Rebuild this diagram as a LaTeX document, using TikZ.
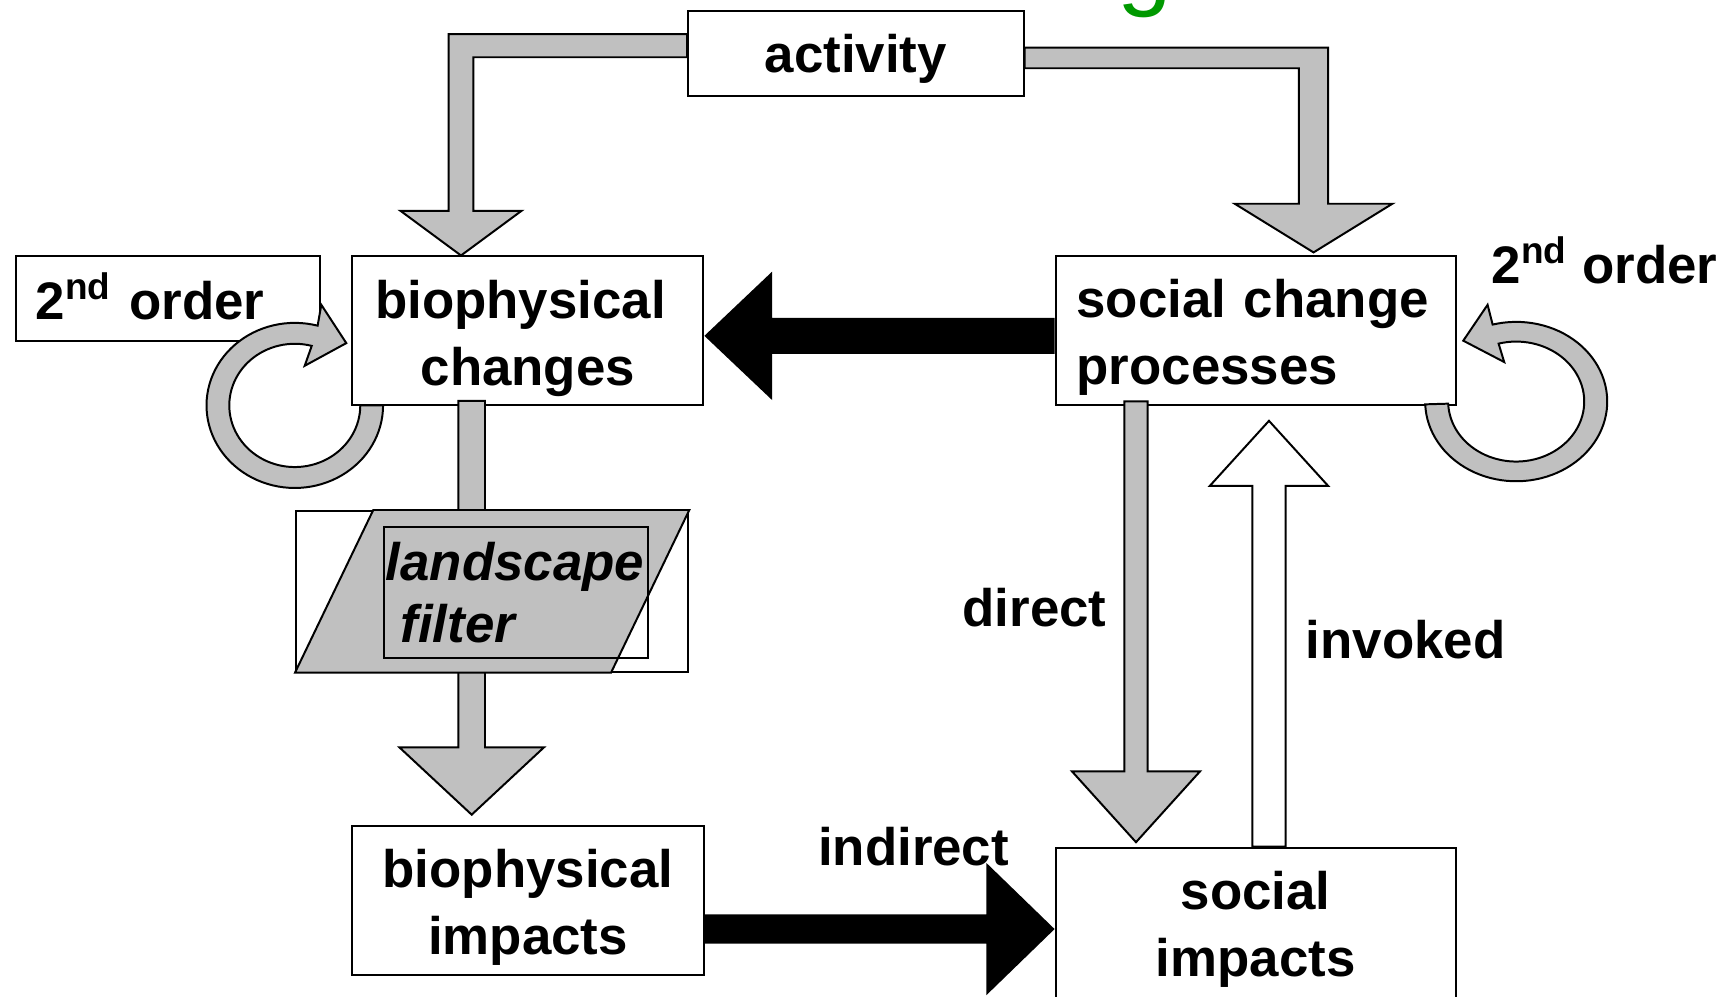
\documentclass[tikz,border=0pt]{standalone}
\usepackage{fontspec}
\setmainfont{Liberation Sans}
\usetikzlibrary{calc}
\definecolor{arrowgray}{RGB}{192,192,192}
\definecolor{titlegreen}{RGB}{0,153,0}
\begin{document}
\begin{tikzpicture}[x=0.5pt,y=-0.5pt,
  box/.style={draw=black, line width=0.9pt, fill=white, rectangle, inner sep=0pt,
              font=\fontsize{24}{30.5}\selectfont\bfseries},
  lbl/.style={font=\fontsize{24}{30.5}\selectfont\bfseries, inner sep=0pt},
  garrow/.style={draw=black, line width=0.9pt, fill=arrowgray, line join=miter},
  warrow/.style={draw=black, line width=0.9pt, fill=white, line join=miter},
  barrow/.style={fill=black},
]
\useasboundingbox (0,0) rectangle (1568,905);
\begin{scope}
\clip (0,0) rectangle (1568,905);

% cut-off title letter
\node[anchor=base west, inner sep=0pt, text=titlegreen,
      font=\fontsize{44.5}{50}\selectfont] (ttl) at (1015,-2) {g};

% boxes
\node[box, minimum width=152.5pt, minimum height=38.5pt, text height=22.5pt, text depth=5pt]
  (act) at (777.5,48.5) {activity};
\node[box, minimum width=159.5pt, minimum height=67.5pt, align=center,
      text height=54.5pt, text depth=5pt] (bc) at (479.5,300.5)
  {biophysical\hspace*{0.278em}\\changes};
\node[box, minimum width=182pt, minimum height=67.5pt, text width=163pt, inner xsep=9.5pt,
      align=left, text height=17.5pt, text depth=29.5pt] (sc) at (1141,300.5)
  {social change\\processes};
\node[box, minimum width=138pt, minimum height=38.75pt, text width=120pt, inner xsep=9pt,
      align=left, text height=19pt, text depth=0pt] (ord1) at (152.6,271) {2\textsuperscript{nd} order};
\node[box, minimum width=159.75pt, minimum height=68pt, align=center,
      text height=54.5pt, text depth=5pt] (bi) at (479.7,818)
  {biophysical\\impacts};
\node[box, minimum width=181.75pt, minimum height=70pt, align=center,
      text height=52.5pt, text depth=5pt] (si) at (1140.7,840)
  {social\\impacts};

% biophysical changes -> biophysical impacts (behind the filter)
\coordinate (t7) at ($(bi.north)+(-51.2,-9)$);
\draw[garrow] ($(t7 |- bc.south)+(-12.1,-4.8)$) -- ($(t7)+(-12.1,-61.2)$) -- ($(t7)+(-65.7,-61.2)$)
  -- (t7) -- ($(t7)+(65.7,-61.2)$) -- ($(t7)+(12.1,-61.2)$) -- ($(t7 |- bc.south)+(12.1,-4.8)$) -- cycle;

% landscape filter
\node[draw, line width=0.9pt, fill=white, minimum width=178.2pt, minimum height=73pt, inner sep=0pt]
  (flt) at (447.1,537.2) {};
\draw[line width=0.9pt, fill=arrowgray] ($(flt.north west)+(71.1,0)$) -- (flt.north east)
  -- ($(flt.south east)+(-71.1,0)$) -- (flt.south west) -- cycle;
\node[draw, line width=0.9pt, minimum width=119.8pt, minimum height=59.25pt, text width=118pt,
      inner xsep=0.9pt, inner ysep=0pt, align=left,
      font=\fontsize{24}{28}\selectfont\bfseries\itshape] (ftxt) at (468.6,538.25)
  {landscape\\\hspace*{0.278em}filter};

% activity -> biophysical changes
\coordinate (t1) at ($(bc.north)+(-60.7,0)$);
\draw[garrow] ($(act.west)+(0,-17.5)$) -| ($(t1)+(-11.2,-40.6)$) -- ($(t1)+(-55,-40.6)$) -- (t1)
  -- ($(t1)+(55,-40.6)$) -- ($(t1)+(11.2,-40.6)$) |- ($(act.west)+(0,3.5)$) -- cycle;

% activity -> social change processes
\coordinate (t2) at ($(sc.north)+(52.3,-2.8)$);
\draw[garrow] ($(act.east)+(0,-5.2)$) -| ($(t2)+(13.25,-44.2)$) -- ($(t2)+(71.6,-44.2)$) -- (t2)
  -- ($(t2)+(-71.6,-44.2)$) -- ($(t2)+(-13.25,-44.2)$) |- ($(act.east)+(0,13.5)$) -- cycle;

% social change processes -> biophysical changes
\coordinate (t3) at ($(bc.east)+(0,4.6)$);
\fill[barrow] (t3) -- ($(t3)+(61.5,-58.3)$) -- ($(t3)+(61.5,-16.35)$) -- ($(sc.west |- t3)+(0,-16.35)$)
  -- ($(sc.west |- t3)+(0,16.35)$) -- ($(t3)+(61.5,16.35)$) -- ($(t3)+(61.5,58.3)$) -- cycle;

% biophysical impacts -> social impacts (indirect)
\coordinate (t4) at ($(si.west |- bi.east)+(0,26)$);
\fill[barrow] (t4) -- ($(t4)+(-61.9,-60)$) -- ($(t4)+(-61.9,-13.3)$) -- ($(bi.east |- t4)+(0,-13.3)$)
  -- ($(bi.east |- t4)+(0,13.3)$) -- ($(t4)+(-61.9,13.3)$) -- ($(t4)+(-61.9,60)$) -- cycle;

% social change processes -> social impacts (direct)
\coordinate (t5) at ($(si.north)+(-108.7,-4)$);
\draw[garrow] ($(t5 |- sc.south)+(-10.6,-4.2)$) -- ($(t5)+(-10.6,-64.4)$) -- ($(t5)+(-58.2,-64.4)$)
  -- (t5) -- ($(t5)+(58.2,-64.4)$) -- ($(t5)+(10.6,-64.4)$) -- ($(t5 |- sc.south)+(10.6,-4.2)$) -- cycle;

% social impacts -> social change processes (invoked)
\coordinate (t6) at ($(sc.south)+(11.8,13.4)$);
\draw[warrow] ($(t6 |- si.north)+(-15.1,0)$) -- ($(t6)+(-15.1,59)$) -- ($(t6)+(-53.65,59)$)
  -- (t6) -- ($(t6)+(53.65,59)$) -- ($(t6)+(15.1,59)$) -- ($(t6 |- si.north)+(15.1,0)$) -- cycle;

% 2nd order loop, biophysical changes
\coordinate (c1) at ($(bc.south west)+(-51.3,-0.6)$);
\begin{scope}[shift={(c1)}]
\draw[garrow] plot[domain=0:285, samples=80, variable=\t] ({80.2*cos(\t)},{75*sin(\t)})
  -- (24.1,-91.4) -- (46.8,-56.6) -- (9,-36)
  -- plot[domain=285:0, samples=80, variable=\t] ({59.5*cos(\t)},{56*sin(\t)}) -- cycle;
\end{scope}

% 2nd order loop, social change processes
\coordinate (c2) at ($(sc.south east)+(53.5,-4.1)$);
\begin{scope}[shift={(c2)}]
\draw[garrow] plot[domain=178:-105, samples=80, variable=\t] ({82.7*cos(\t)},{72.4*sin(\t)})
  -- (-26,-87.9) -- (-48.1,-55.3) -- (-10.9,-35.9)
  -- plot[domain=-105:178, samples=80, variable=\t] ({61.8*cos(\t)},{54.5*sin(\t)}) -- cycle;
\end{scope}

% labels
\node[lbl, anchor=base west] (ord2) at (1355,257.4) {2\textsuperscript{nd} order};
\node[lbl, anchor=base west] (ldirect) at (874,569.3) {direct};
\node[lbl, anchor=base west] (linvoked) at (1186,598) {invoked};
\node[lbl, anchor=base west] (lindirect) at (742.8,786) {indirect};
\end{scope}
\end{tikzpicture}
\end{document}
